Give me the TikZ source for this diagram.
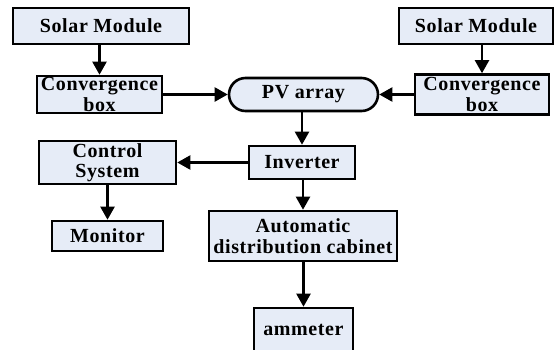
\documentclass[tikz,border=0pt]{standalone}
\usepackage{fontspec}
\setmainfont{Liberation Serif}[LetterSpace=3]
\usepackage{xcolor}
\usetikzlibrary{arrows.meta}
\definecolor{boxfill}{RGB}{230,236,247}

\begin{document}
\begin{tikzpicture}[x=1pt, y=-1pt,
  font=\fontsize{20}{20.5}\selectfont\bfseries,
  box/.style={draw, line width=2.6pt, fill=boxfill, align=center, inner sep=0pt},
  arr/.style={-{Triangle[length=13pt,width=14pt]}, line width=2.2pt},
]
\useasboundingbox (0,0) rectangle (556,349);
% sources
\node[box, minimum width=176, minimum height=36] (sm1) at (101,26) {Solar Module};
\node[box, minimum width=154, minimum height=36] (sm2) at (476,26) {Solar Module};
\node[box, minimum width=125, minimum height=37] (cb1) at (99.5,94.5) {Convergence\\ box};
\node[box, minimum width=134, minimum height=40] (cb2) at (482,94.5) {Convergence\\ box};
\node[box, rounded corners=16.5pt, minimum width=149, minimum height=33] (pv) at (303.5,94.5) {PV array};
% conversion and control
\node[box, minimum width=106, minimum height=33] (inv) at (302,162.5) {Inverter};
\node[box, minimum width=137, minimum height=43] (cs) at (107.5,162.5) {Control\\ System};
\node[box, minimum width=111, minimum height=30] (mon) at (107.5,236) {Monitor};
\node[box, minimum width=188, minimum height=50] (adc) at (303,236) {Automatic\\ distribution cabinet};
\node[box, minimum width=99, minimum height=44] (amm) at (303.5,330) {ammeter};
% connectors
\draw[arr] (sm1.south -| cb1.north) -- (cb1.north);
\draw[arr] (sm2.south -| cb2.north) -- (cb2.north);
\foreach \a/\b in {cb1/pv,cb2/pv,inv/cs} \draw[arr] (\a) -- (\b);
\draw[arr] (pv.south -| inv.north) -- (inv.north);
\draw[arr] (cs.south -| mon.north) -- (mon.north);
\draw[arr] (inv.south -| adc.north) -- (adc.north);
\draw[arr] (adc.south -| amm.north) -- (amm.north);
\end{tikzpicture}
\end{document}
